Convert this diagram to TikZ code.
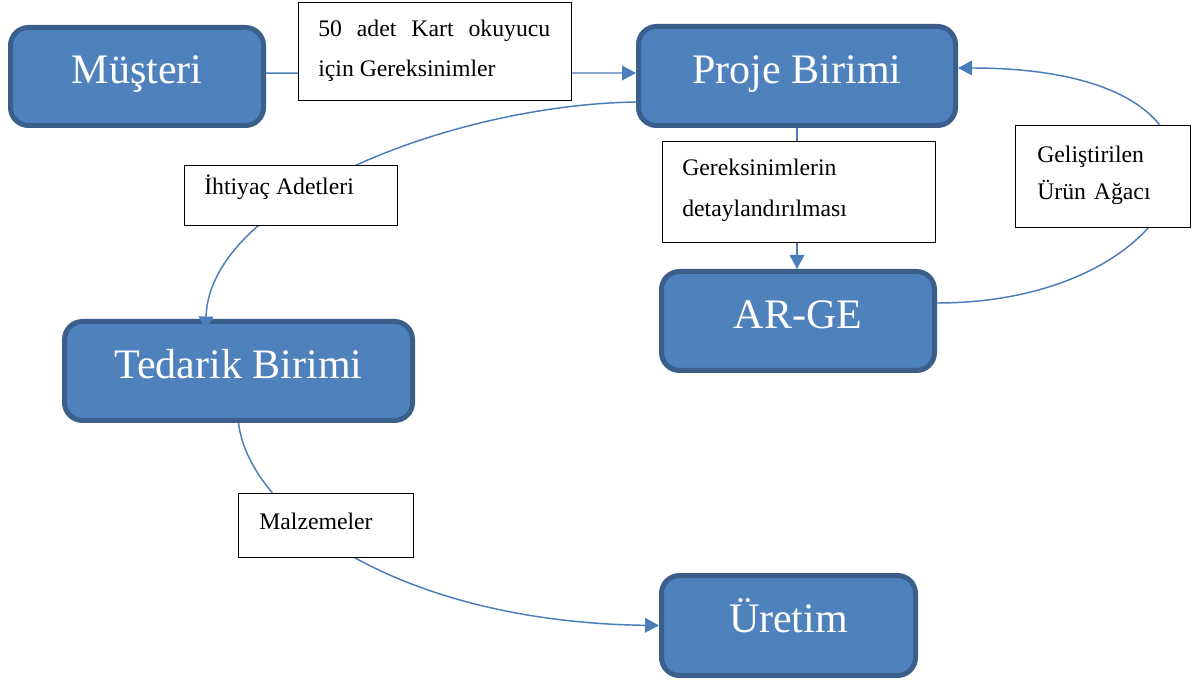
\documentclass[tikz,border=0pt]{standalone}
\usepackage{fontspec}
\setmainfont{Liberation Serif}
\usetikzlibrary{arrows.meta,calc}

\definecolor{unitfill}{HTML}{4F81BD}
\definecolor{unitborder}{HTML}{3A5F8B}
\definecolor{flow}{HTML}{4A7EBB}

\begin{document}
\begin{tikzpicture}[x=0.75pt,y=-0.75pt,
  unit/.style={draw=unitborder, line width=3.75pt, fill=unitfill, rounded corners=13.5pt,
    text=white, font=\fontsize{31.5}{36}\selectfont, text height=22pt, text depth=11pt,
    inner sep=0pt},
  notebox/.style={draw=black, line width=0.9pt, fill=white, inner sep=0pt, anchor=north west},
  notetext/.style={anchor=base west, inner sep=0pt, align=left},
  conn/.style={draw=flow, line width=1.1pt, -{Triangle[length=10.5pt,width=11pt]}}
]
\useasboundingbox[fill=white] (0,0) rectangle (1192,680);

% organisational units
\node[unit, minimum width=189.75pt, minimum height=73.5pt]  (mus)   at (137,76.5)  {Müşteri};
\node[unit, minimum width=237.75pt, minimum height=74.25pt] (proje) at (797,76)    {Proje Birimi};
\node[unit, minimum width=204.75pt, minimum height=74.25pt] (arge)  at (798,321)   {AR-GE};
\node[unit, minimum width=261pt,    minimum height=74.25pt] (ted)   at (238.5,371) {Tedarik Birimi};
\node[unit, minimum width=190.5pt,  minimum height=75pt]    (uret)  at (788.5,625.5) {Üretim};

% flows between units
\draw[conn] ([yshift=2.6pt]mus.east) -- ([yshift=2.25pt]proje.west);
\draw[conn] ([yshift=-19.5pt]proje.west) .. controls (450,105) and (210,200) .. ($(ted.north west)+(143.5,11.5)$);
\draw[conn] (proje.south) -- (proje.south |- arge.north);
\draw[conn] ([yshift=13.5pt]arge.east) .. controls (1200,303) and (1290,68) .. ([yshift=6pt]proje.east);
\draw[conn] (ted.south) .. controls (250,515) and (400,622) .. (uret.west);

% flow labels
\node[notebox, minimum width=204.75pt, minimum height=73.5pt]  (lab1) at (298,2)    {};
\node[notebox, minimum width=204.75pt, minimum height=75.75pt] (lab2) at (662,141)  {};
\node[notebox, minimum width=131.25pt, minimum height=76.5pt]  (lab3) at (1015,125) {};
\node[notebox, minimum width=159.75pt, minimum height=45pt]    (lab4) at (184,165)  {};
\node[notebox, minimum width=131.25pt, minimum height=48pt]    (lab5) at (238,493)  {};

\node[notetext, text width=174pt, align=justify, font=\fontsize{17.8}{30}\selectfont]
  (t1) at (318,37) {50 adet Kart okuyucu için Gereksinimler};
\node[notetext, text width=170pt, font=\fontsize{17.8}{30.75}\selectfont]
  (t2) at (682,176) {Gereksinimlerin\\detaylandırılması};
\node[notetext, text width=110pt, font=\fontsize{17.8}{27.75}\selectfont]
  (t3) at (1037,163) {Geliştirilen\\Ürün Ağacı};
\node[notetext, font=\fontsize{17.8}{21}\selectfont]
  (t4) at (204,195) {İhtiyaç Adetleri};
\node[notetext, font=\fontsize{17.8}{21}\selectfont]
  (t5) at (259,529) {Malzemeler};
\end{tikzpicture}
\end{document}
